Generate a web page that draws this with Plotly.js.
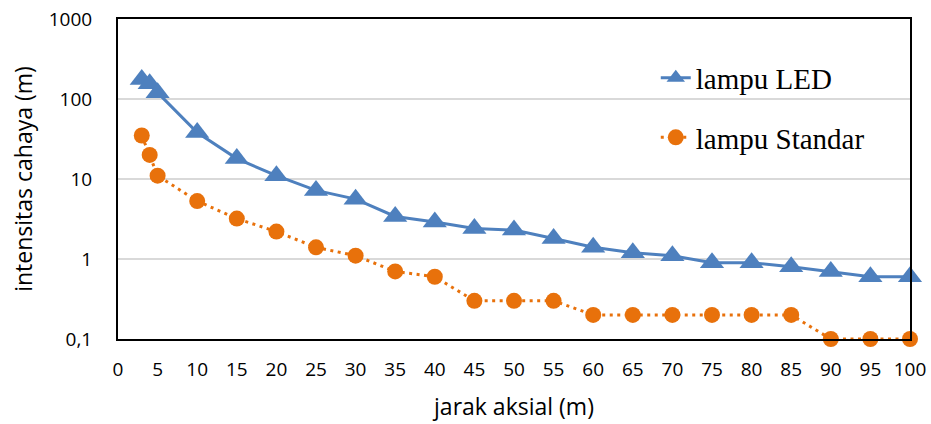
<!DOCTYPE html>
<html>
<head>
<meta charset="utf-8">
<script src="https://cdn.plot.ly/plotly-3.0.1.min.js"></script>
<style>html,body{margin:0;padding:0;background:#fff}#chart{width:931px;height:424px}</style>
</head>
<body>
<div id="chart"></div>
<script>
const jarak = [3, 4, 5, 10, 15, 20, 25, 30, 35, 40, 45, 50, 55, 60, 65, 70, 75, 80, 85, 90, 95, 100];
const lampuLED = [175, 155, 120, 38, 18, 11, 7.2, 5.6, 3.4, 2.9, 2.4, 2.3, 1.8, 1.4, 1.2, 1.1, 0.9, 0.9, 0.8, 0.7, 0.6, 0.6];
const lampuStandar = [35, 20, 11, 5.3, 3.2, 2.2, 1.4, 1.1, 0.7, 0.6, 0.3, 0.3, 0.3, 0.2, 0.2, 0.2, 0.2, 0.2, 0.2, 0.1, 0.1, 0.1];
const xTicks = [0, 5, 10, 15, 20, 25, 30, 35, 40, 45, 50, 55, 60, 65, 70, 75, 80, 85, 90, 95, 100];
const yTickVals = [0.1, 1, 10, 100, 1000];
const yTickText = ['0,1', '1', '10', '100', '1000'];

const blue = '#4E80BE';
const orange = '#E8710B';

const traces = [
  {
    x: jarak, y: lampuLED, name: 'lampu LED', type: 'scatter', mode: 'lines+markers',
    legendgroup: 'a', cliponaxis: false,
    line: {color: blue, width: 3},
    marker: {symbol: 'triangle-up', size: 21, color: blue}
  },
  {
    x: jarak, y: lampuStandar, name: 'lampu Standar', type: 'scatter', mode: 'lines+markers',
    legendgroup: 'b', cliponaxis: false,
    line: {color: orange, width: 3, dash: '3px,4.5px'},
    marker: {symbol: 'circle', size: 16, color: orange}
  }
];

const axisFont = {family: 'Open Sans, sans-serif', size: 19, color: '#000'};

const layout = {
  width: 931, height: 424,
  margin: {l: 118, r: 21, t: 19, b: 85},
  paper_bgcolor: '#fff', plot_bgcolor: '#fff',
  showlegend: true,
  legend: {
    x: 0.679, y: 0.896, xanchor: 'left', yanchor: 'top',
    font: {family: 'Liberation Serif, Times New Roman, serif', size: 29, color: '#000'},
    traceorder: 'grouped', tracegroupgap: 19,
    bgcolor: 'rgba(0,0,0,0)', borderwidth: 0
  },
  xaxis: {
    type: 'linear', range: [0, 100], tickvals: xTicks, ticktext: xTicks.map(String),
    ticks: '', tickfont: axisFont, ticklabelstandoff: 12,
    showline: true, linecolor: '#000', linewidth: 2, mirror: true,
    showgrid: false, zeroline: false, fixedrange: true,
    title: {text: 'jarak aksial (m)', font: {family: 'Open Sans, sans-serif', size: 23, color: '#000'}, standoff: 18}
  },
  yaxis: {
    type: 'log', range: [-1, 3], tickvals: yTickVals, ticktext: yTickText,
    ticks: '', tickfont: axisFont, ticklabelstandoff: 20,
    showline: true, linecolor: '#000', linewidth: 2, mirror: true,
    showgrid: true, gridcolor: '#d9d9d9', gridwidth: 2, zeroline: false, fixedrange: true,
    title: {text: 'intensitas cahaya (m)', font: {family: 'Open Sans, sans-serif', size: 23, color: '#000'}, standoff: 10}
  }
};

Plotly.newPlot('chart', traces, layout, {displayModeBar: false, staticPlot: true});
</script>
</body>
</html>
